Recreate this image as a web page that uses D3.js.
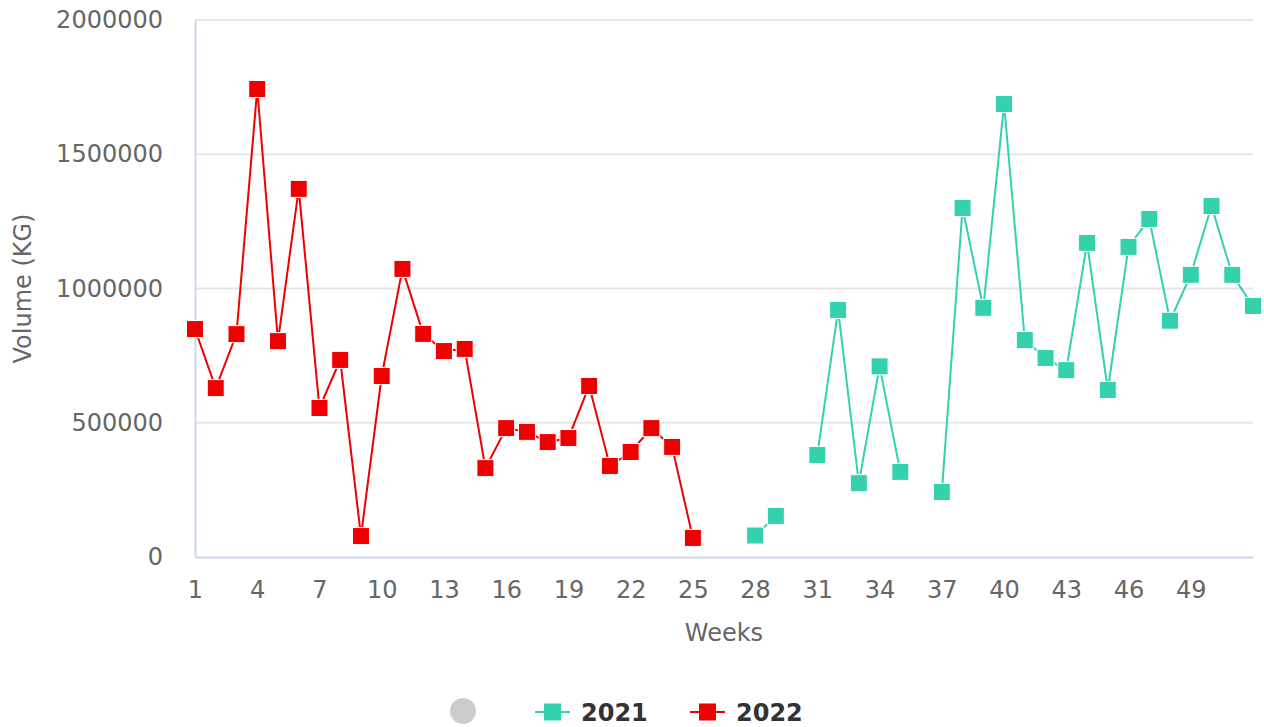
<!DOCTYPE html>
<html>
<head>
<meta charset="utf-8">
<script src="https://cdn.jsdelivr.net/npm/d3@7"></script>
<style>
    body { margin: 0; background: #fff; }
    svg { font-family: "DejaVu Sans", sans-serif; }
</style>
</head>
<body>
<div id="chart"></div>
<script>
// weeks 1..52
const weeks = [1, 2, 3, 4, 5, 6, 7, 8, 9, 10, 11, 12, 13, 14, 15, 16, 17, 18, 19, 20, 21, 22, 23, 24, 25, 26,
    27, 28, 29, 30, 31, 32, 33, 34, 35, 36, 37, 38, 39, 40, 41, 42, 43, 44, 45, 46, 47, 48, 49, 50, 51, 52];
const weekTicks = [1, 4, 7, 10, 13, 16, 19, 22, 25, 28, 31, 34, 37, 40, 43, 46, 49];
const volumeTicks = [0, 500000, 1000000, 1500000, 2000000];

// 2021: only weeks 28 onward have values
const vol2021 = [null, null, null, null, null, null, null, null, null, null, null, null, null, null,
    null, null, null, null, null, null, null, null, null, null, null, null, null,
    80000, 153000, null, 380000, 920000, 275000, 710000, 317000, null, 242000, 1300000, 928000,
    1687000, 808000, 741000, 696000, 1170000, 622000, 1155000, 1259000, 880000, 1051000,
    1307000, 1051000, 935000];

// 2022: weeks 1 to 25
const vol2022 = [849000, 629000, 830000, 1743000, 804000, 1371000, 555000, 734000, 78000, 674000,
    1073000, 831000, 767000, 775000, 331000, 480000, 466000, 428000, 443000, 637000, 339000,
    391000, 480000, 410000, 71000];

const seriesNames = ["2021", "2022"];
const seriesColors = ["#33d1ad", "#ee0000"];

function onDOMContentLoaded() {
    const width = 1264,
        height = 727;
    const plot = { left: 195, right: 1253, top: 20, bottom: 557 };

    const svg = d3.select("#chart")
        .append("svg")
        .attr("width", width)
        .attr("height", height);

    const xScale = d3.scaleLinear()
        .domain([1, 52])
        .range([plot.left, plot.right]);
    const yScale = d3.scaleLinear()
        .domain([0, 2000000])
        .range([plot.bottom, plot.top]);

    // gridlines
    svg.append("g")
        .selectAll("line")
        .data(volumeTicks.filter(d => d > 0))
        .join("line")
        .attr("x1", plot.left)
        .attr("x2", plot.right)
        .attr("y1", d => yScale(d))
        .attr("y2", d => yScale(d))
        .attr("stroke", "#e6e6e6")
        .attr("stroke-width", 2);

    // y axis
    const yAxis = d3.axisLeft(yScale)
        .tickValues(volumeTicks)
        .tickFormat(d3.format("d"))
        .tickSize(0)
        .tickPadding(32);
    const yG = svg.append("g")
        .attr("transform", `translate(${ plot.left }, 0)`)
        .call(yAxis);
    yG.select(".domain").attr("stroke", "#ccd6eb").attr("stroke-width", 2);
    yG.selectAll("text")
        .attr("fill", "#666")
        .attr("font-size", 24)
        .attr("font-family", "DejaVu Sans");

    // x axis
    const xAxis = d3.axisBottom(xScale)
        .tickValues(weekTicks)
        .tickFormat(d3.format("d"))
        .tickSize(0)
        .tickPadding(24);
    const xG = svg.append("g")
        .attr("transform", `translate(0, ${ plot.bottom })`)
        .call(xAxis);
    xG.select(".domain").attr("stroke", "#ccd6eb").attr("stroke-width", 2);
    xG.selectAll("text")
        .attr("fill", "#666")
        .attr("font-size", 24)
        .attr("font-family", "DejaVu Sans");

    // axis titles
    svg.append("text")
        .attr("x", (plot.left + plot.right) / 2)
        .attr("y", 641)
        .attr("text-anchor", "middle")
        .attr("fill", "#666")
        .attr("font-size", 24)
        .text("Weeks");
    svg.append("text")
        .attr("transform", `translate(31, ${ (plot.top + plot.bottom) / 2 }) rotate(-90)`)
        .attr("text-anchor", "middle")
        .attr("fill", "#666")
        .attr("font-size", 24)
        .text("Volume (KG)");

    // series
    const allSeries = [vol2021, vol2022];
    const line = d3.line()
        .defined(d => d.v != null)
        .x(d => xScale(d.w))
        .y(d => yScale(d.v));

    allSeries.forEach((values, i) => {
        const pts = values.map((v, j) => ({ w: weeks[j], v: v }));
        const g = svg.append("g");
        g.append("path")
            .datum(pts)
            .attr("d", line)
            .attr("fill", "none")
            .attr("stroke", seriesColors[i])
            .attr("stroke-width", 2);
        g.selectAll("rect")
            .data(pts.filter(d => d.v != null))
            .join("rect")
            .attr("x", d => xScale(d.w) - 8.5)
            .attr("y", d => yScale(d.v) - 8.5)
            .attr("width", 17)
            .attr("height", 17)
            .attr("fill", seriesColors[i])
            .attr("stroke", "#fff")
            .attr("stroke-width", 1);
    });

    // legend
    const legend = svg.append("g");
    legend.append("circle")
        .attr("cx", 463)
        .attr("cy", 711)
        .attr("r", 13)
        .attr("fill", "#cccccc");
    const legendX = [535, 690];
    seriesNames.forEach((name, i) => {
        const item = legend.append("g").attr("transform", `translate(${ legendX[i] }, 712)`);
        item.append("line")
            .attr("x1", 0)
            .attr("x2", 35)
            .attr("stroke", seriesColors[i])
            .attr("stroke-width", 2);
        item.append("rect")
            .attr("x", 9)
            .attr("y", -8.5)
            .attr("width", 17)
            .attr("height", 17)
            .attr("fill", seriesColors[i]);
        item.append("text")
            .attr("x", 46)
            .attr("y", 9)
            .attr("fill", "#333")
            .attr("font-size", 24)
            .attr("font-weight", "bold")
            .text(name);
    });
}

document.addEventListener("DOMContentLoaded", onDOMContentLoaded);
</script>
</body>
</html>
